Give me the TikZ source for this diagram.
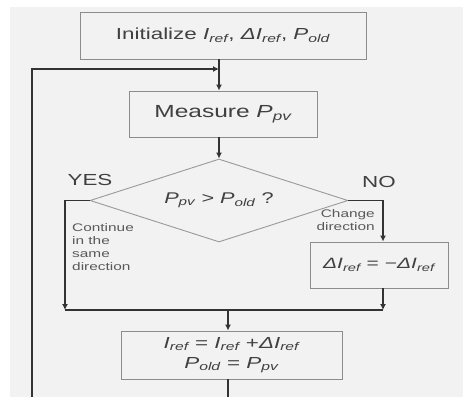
\documentclass[tikz,border=0pt]{standalone}
\usepackage{fontspec}
\setmainfont{Liberation Sans}
\usetikzlibrary{positioning,arrows.meta,shapes.geometric}

\newcommand{\lo}[1]{\textsubscript{\itshape #1}}
\newcommand{\wide}[1]{\scalebox{1.4}[1]{#1}}
\newcommand{\pts}[1]{\fontsize{#1}{1.3\dimexpr#1pt\relax}\selectfont}

\begin{document}
\begin{tikzpicture}[x=1pt,y=-1pt,>={Latex[length=6pt,width=6pt]},
	box/.style={rectangle,draw=black!45,line width=0.9pt,text=black!75,inner sep=0pt,
		font=\pts{15},align=center},
	test/.style={diamond,draw=black!40,line width=0.9pt,text=black!75,inner sep=0pt,
		font=\pts{15.5},aspect=3.1},
	line/.style={draw=black!80,line width=1.7pt},
	word/.style={text=black!75,inner sep=0pt,font=\pts{16}},
	note/.style={text=black!65,inner sep=0pt,font=\fontsize{11}{13}\selectfont}]
	\fill[white]	(0,0)	rectangle	(463,397);
	\fill[black!5]	(10,7)	rectangle	(463,397);
	\useasboundingbox	(0,0)	rectangle	(463,397);

	\node[box,minimum width=286,minimum height=47,font=\pts{16}]	(init)		at	(223,35.5)	{\wide{Initialize \textit{I}\lo{ref}, \textit{ΔI}\lo{ref}, \textit{P}\lo{old}}};
	\node[box,minimum width=188,minimum height=46,font=\pts{17.5}]	(measure)	at	(223,114)	{\wide{Measure \textit{P}\lo{pv}}};
	\node[test,minimum width=258,minimum height=83]	(check)		at	(219,200.5)	{\wide{\textit{P}\lo{pv} > \textit{P}\lo{old} ?}};
	\node[box,minimum width=138,minimum height=46]	(flip)		at	(379,265)	{\wide{\textit{ΔI}\lo{ref} = −\textit{ΔI}\lo{ref}}};
	\node[box,minimum width=221,minimum height=48,font=\fontsize{16}{20}\selectfont]	(update)	at	(231.5,355)	{\wide{\textit{I}\lo{ref} = \textit{I}\lo{ref} +\textit{ΔI}\lo{ref}}\\\wide{\textit{P}\lo{old} = \textit{P}\lo{pv}}};

	\node[word]	(yes)	at	(90,180)	{\wide{YES}};
	\node[word]	(no)	at	(379,182)	{\wide{NO}};
	\node[note,anchor=north west,align=left]	(same)		at	(72,223)	{\wide{Continue}\\\wide{in the}\\\wide{same}\\\wide{direction}};
	\node[note,anchor=north east,align=right]	(change)	at	(375,209)	{\wide{Change}\\\wide{direction}};

	\coordinate	(join)		at	(219,69);
	\coordinate	(yesdown)	at	(65,310);
	\coordinate	(nodown)	at	(383,310);
	\coordinate	(merge)		at	(228,310);
	\coordinate	(back)		at	(32,397);

	\draw[line]	(init.south -| join)	--	(join);
	\draw[line,->]	(join)	--	(join |- measure.north);
	\draw[line,->]	(measure.south -| join)	--	(check.north);
	\draw[line,->]	(back)	|-	(join);
	\draw[line,->]	(check.west)	-|	(yesdown);
	\draw[line,->]	(check.east)	-|	(flip.north -| nodown);
	\draw[line,->]	(flip.south -| nodown)	--	(nodown);
	\draw[line]	(yesdown)	--	(nodown);
	\draw[line,->]	(merge)	--	(merge |- update.north);
	\draw[line]	(update.south -| merge)	--	(merge |- back);
\end{tikzpicture}
\end{document}
